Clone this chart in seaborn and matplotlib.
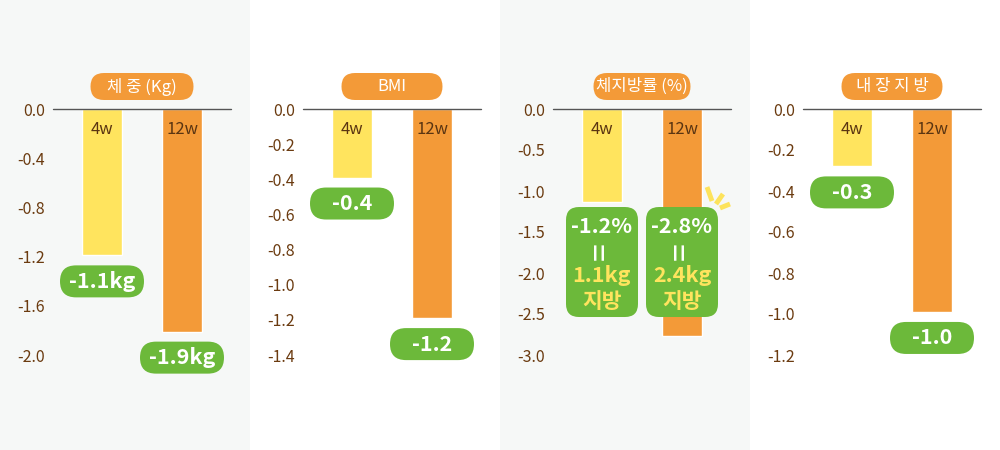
import matplotlib
matplotlib.use("Agg")
import numpy as np
import pandas as pd
import seaborn as sns
import matplotlib.pyplot as plt
from matplotlib.patches import FancyBboxPatch, Rectangle
from matplotlib.lines import Line2D

# data
titles = ["체 중 (Kg)", "BMI", "체지방률 (%)", "내 장 지 방"]
periods = ["4w", "12w"]
bar_4w = [-1.19, -0.39, -1.14, -0.28]
bar_12w = [-1.81, -1.19, -2.77, -0.99]
labels_4w = ["-1.1kg", "-0.4", "-1.2%", "-0.3"]
labels_12w = ["-1.9kg", "-1.2", "-2.8%", "-1.0"]
fat_4w = "1.1kg"
fat_12w = "2.4kg"
y_min = [-2.0, -1.4, -3.0, -1.2]
y_step = [0.4, 0.2, 0.5, 0.2]

df = pd.DataFrame({
    "panel": np.repeat(range(4), 2),
    "period": periods * 4,
    "value": [v for pair in zip(bar_4w, bar_12w) for v in pair],
})

YELLOW = "#ffe45e"
ORANGE = "#f39a38"
GREEN = "#6cb93a"
BROWN = "#6b3b10"
BG = "#f6f8f7"

sns.set_theme(style="white")
plt.rcParams["font.family"] = ["Noto Sans CJK KR", "DejaVu Sans"]

fig = plt.figure(figsize=(10, 4.5), dpi=100)
DPI = fig.dpi


def to_in(ax, trans, x, y):
    px, py = trans.transform((x, y))
    return px / DPI, py / DPI


def pill(cx, cy, w, h, color, r=None):
    # cx, cy in inches, w/h in pixels
    w, h = w / DPI, h / DPI
    r = h / 2 if r is None else r / DPI
    p = FancyBboxPatch((cx - w / 2, cy - h / 2), w, h,
                       boxstyle=f"round,pad=0,rounding_size={r}",
                       transform=fig.dpi_scale_trans, facecolor=color,
                       edgecolor="none", zorder=3)
    fig.add_artist(p)


def label(cx, cy, s, color="white", size=15.5, weight="bold", **kw):
    fig.text(cx, cy, s, transform=fig.dpi_scale_trans, color=color,
             fontsize=size, fontweight=weight, ha="center", va="center",
             zorder=4, **kw)


title_w = [103, 101, 97, 101]

for i in range(4):
    if i % 2 == 0:
        fig.add_artist(Rectangle((i * 0.25, 0), 0.25, 1, transform=fig.transFigure,
                                 facecolor=BG, edgecolor="none", zorder=-5))

    ax = fig.add_axes([(250 * i + 53) / 1000, 1 - 355 / 450, 178 / 1000, 246 / 450])
    ax.set_facecolor("none")
    sub = df[df.panel == i]
    sns.barplot(data=sub, x="period", y="value", hue="period", order=periods,
                hue_order=periods, palette=[YELLOW, ORANGE], width=0.5,
                saturation=1, legend=False, ax=ax)
    ax.set_xlim(-0.6125, 1.6125)
    ax.set_ylim(y_min[i], 0)
    n = int(round(y_min[i] / -y_step[i])) + 1
    ticks = np.linspace(0, y_min[i], n)
    ax.set_yticks(ticks)
    ax.set_yticklabels([f"{abs(t):.1f}" if t == 0 else f"{t:.1f}" for t in ticks],
                       fontweight="medium")
    ax.tick_params(axis="y", length=0, pad=6, labelcolor=BROWN, labelsize=11.5)
    ax.set_xticks([])
    ax.set_xlabel("")
    ax.set_ylabel("")
    for s in ax.spines.values():
        s.set_visible(False)
    ax.axhline(0, color="#555555", lw=1, clip_on=False, zorder=5)

    # period names inside the bars
    for j, per in enumerate(periods):
        ax.annotate(per, xy=(j, 0), xytext=(0, -21), textcoords="offset pixels",
                    ha="center", va="center", color="#5a3512", fontsize=12)

    # title pill
    cx, cy = to_in(ax, ax.transData, 0.5, 0)
    cy += 22.5 / DPI
    pill(cx, cy, title_w[i], 27, ORANGE)
    label(cx, cy, titles[i], size=12, weight="medium")

    if i == 2:
        for j, (pct, kg) in enumerate([(labels_4w[i], fat_4w), (labels_12w[i], fat_12w)]):
            bx, by = to_in(ax, ax.get_xaxis_transform(), j, 0.378)
            pill(bx, by, 72, 110, GREEN, r=13)
            label(bx, by + 36 / DPI, pct, size=15.5)
            label(bx, by + 11 / DPI, "=", size=23, weight="normal", rotation=90)
            label(bx, by - 13 / DPI, kg, color=YELLOW, size=15.5)
            label(bx, by - 39 / DPI, "지방", color=YELLOW, size=15.5)
            if j == 1:
                tx, ty = bx + 36 / DPI, by + 55 / DPI
                for (x0, y0), (x1, y1) in [((-11, 20), (-6, 6)),
                                           ((5, 13), (-2, 3)),
                                           ((12, 3), (2, -1))]:
                    fig.add_artist(Line2D([tx + x0 / DPI, tx + x1 / DPI],
                                          [ty + y0 / DPI, ty + y1 / DPI],
                                          transform=fig.dpi_scale_trans,
                                          color="#fde35c", lw=3.5,
                                          solid_capstyle="butt", zorder=4))
    else:
        for j, (val, txt) in enumerate([(bar_4w[i], labels_4w[i]),
                                        (bar_12w[i], labels_12w[i])]):
            bx, by = to_in(ax, ax.transData, j, val)
            by -= 26 / DPI
            pill(bx, by, 84, 32, GREEN)
            label(bx, by, txt)

fig.savefig("out.png", dpi=100)
